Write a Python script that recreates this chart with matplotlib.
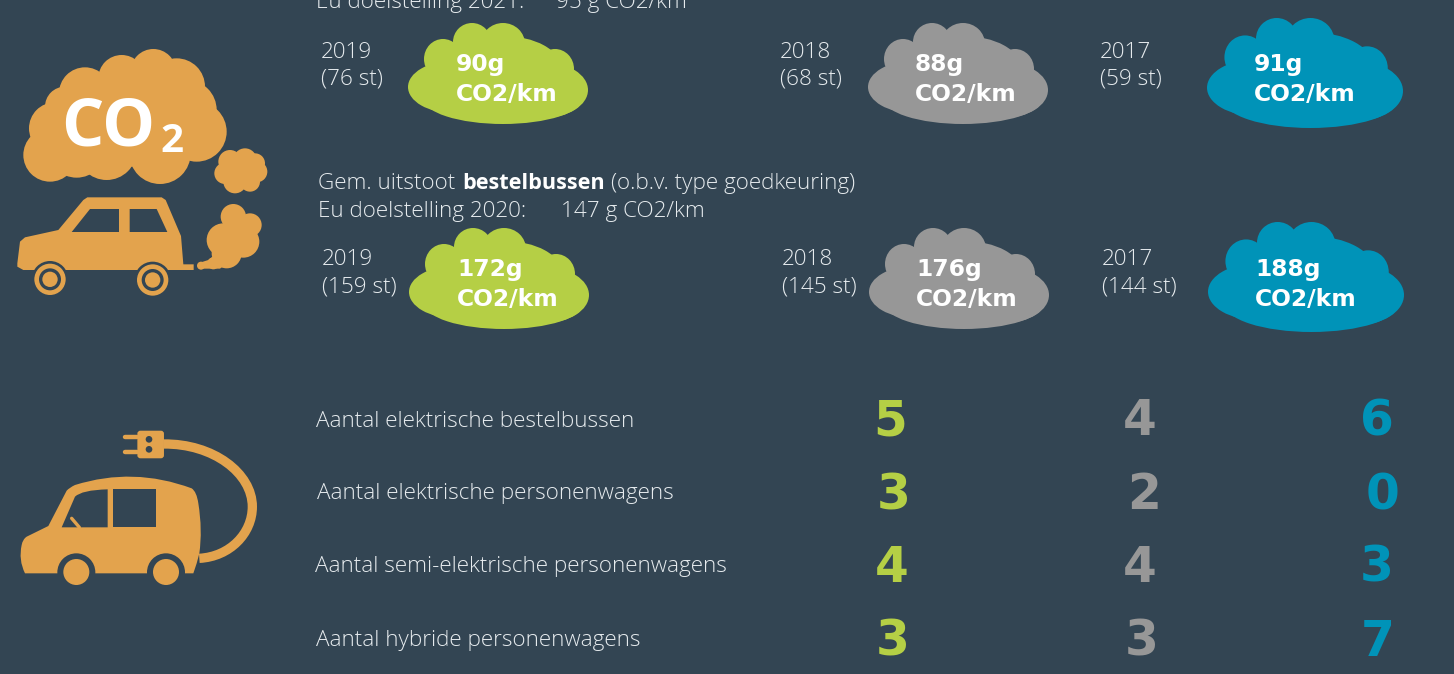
import matplotlib
matplotlib.use("Agg")
import matplotlib.pyplot as plt
from matplotlib.patches import Circle, Ellipse, Polygon, PathPatch, FancyBboxPatch
from matplotlib.path import Path

# ---- data ----
years = ["2019", "2018", "2017"]
car_counts = ["(76 st)", "(68 st)", "(59 st)"]
car_co2 = ["90g", "88g", "91g"]
van_counts = ["(159 st)", "(145 st)", "(144 st)"]
van_co2 = ["172g", "176g", "188g"]
count_labels = ["Aantal elektrische bestelbussen", "Aantal elektrische personenwagens",
                "Aantal semi-elektrische personenwagens", "Aantal hybride personenwagens"]
counts_2019 = [5, 3, 4, 3]
counts_2018 = [4, 2, 4, 3]
counts_2017 = [6, 0, 3, 7]

# ---- style / layout ----
BG = "#334553"; OR = "#E3A34D"; GREEN = "#B5CF45"; GRAY = "#979797"; BLUE = "#0093B8"
colors = [GREEN, GRAY, BLUE]
FONT = "Open Sans"
NUMF = "DejaVu Sans"
LS = 16.2

fig = plt.figure(figsize=(14.54, 6.74), dpi=100, facecolor=BG)
ax = fig.add_axes([0, 0, 1, 1])
ax.set_xlim(0, 1454); ax.set_ylim(674, 0); ax.axis("off")

def txt(x, y, s, size=LS, color="#E6EBEE", **kw):
    kw.setdefault("family", FONT)
    kw.setdefault("weight", "light")
    return ax.text(x, y, s, fontsize=size, color=color, va="baseline", ha=kw.pop("ha", "left"), **kw)

def blobs(items, color, ox=0, oy=0, s=1/3, z=2):
    for cx, cy, r in items:
        ax.add_patch(Circle((ox + cx * s, oy + cy * s), r * s, fc=color, ec="none", zorder=z))

# cloud shape: relative to a 180x101 box (cx, cy, rx, ry)
CLOUD = [(35, 36, 19, 20), (64, 19, 19, 19), (95, 21, 22, 21), (125, 42, 20, 20), (147, 46, 19, 20),
         (95, 45, 58, 32), (45, 64, 45, 26), (135, 67, 45, 28), (95, 75, 80, 26)]
def cloud(x0, y0, w, h, color):
    sx, sy = w / 180, h / 101
    for cx, cy, rx, ry in CLOUD:
        ax.add_patch(Ellipse((x0 + cx * sx, y0 + cy * sy), 2 * rx * sx, 2 * ry * sy, fc=color, ec="none", zorder=2))

# clipped heading fragments at the top edge
txt(205, -9, "g", size=24, color="white", weight="bold", ha="center", clip_on=True)
txt(316, 8, "Eu doelstelling 2021:", clip_on=True)
txt(556, 8, "95 g CO2/km", clip_on=True)

# car rows
car_lbl_x = [321, 780, 1100]; car_cloud_x = [408, 868, 1207]; car_cloud_y = [23, 23, 18]
car_text_x = [456, 915, 1254]; cw = [180, 180, 196]; ch = [101, 101, 110]
for i in range(3):
    txt(car_lbl_x[i], 58, years[i]); txt(car_lbl_x[i], 85, car_counts[i])
    cloud(car_cloud_x[i], car_cloud_y[i], cw[i], ch[i], colors[i])
    txt(car_text_x[i], 71, car_co2[i], size=16.8, color="white", family=NUMF, weight="bold", zorder=3)
    txt(car_text_x[i], 101, "CO2/km", size=16.8, color="white", family=NUMF, weight="bold", zorder=3)

# van heading
txt(318, 189, "Gem. uitstoot")
txt(462, 189, "bestelbussen", weight="bold", color="white", size=15.6)
txt(611, 189, "(o.b.v. type goedkeuring)")
txt(318, 217, "Eu doelstelling 2020:")
txt(561, 217, "147 g CO2/km")

van_lbl_x = [322, 782, 1102]; van_cloud_x = [409, 869, 1208]; van_cloud_y = [228, 228, 222]
van_text_x = [457, 916, 1255]
for i in range(3):
    txt(van_lbl_x[i], 265, years[i]); txt(van_lbl_x[i], 292, van_counts[i])
    cloud(van_cloud_x[i], van_cloud_y[i], cw[i], ch[i], colors[i])
    txt(van_text_x[i], 276, van_co2[i], size=16.8, color="white", family=NUMF, weight="bold", zorder=3)
    txt(van_text_x[i], 306, "CO2/km", size=16.8, color="white", family=NUMF, weight="bold", zorder=3)

# count rows
row_base = [435, 509, 582, 656]
row_lbl_base = [427, 499, 572, 646]
row_lbl_x = [316, 317, 315, 316]
col_x = [[890, 1140, 1377], [894, 1144, 1383], [892, 1140, 1377], [893, 1142, 1378]]
for r in range(4):
    txt(row_lbl_x[r], row_lbl_base[r], count_labels[r])
    vals = [counts_2019[r], counts_2018[r], counts_2017[r]]
    for c in range(3):
        txt(col_x[r][c], row_base[r], str(vals[c]), size=35, color=colors[c], family=NUMF,
            weight="bold", ha="center")

# CO2 car icon (zoom coordinates, 3x)
blobs([(150,465,80),(165,385,78),(195,320,60),(255,280,78),(365,235,70),(460,215,68),(530,260,85),
       (560,330,90),(590,395,90),(480,460,92),(320,450,90),(230,445,88),(400,350,150),(220,400,110)], OR)
blobs([(690,485,35),(735,480,35),(765,490,30),(675,520,32),(770,515,32),(705,545,35),(750,545,30),(725,510,45)], OR)
blobs([(700,650,38),(750,675,35),(670,720,50),(730,725,48),(680,760,45),(640,790,18),(603,797,12)], OR)
def poly(pts, color, z=3):
    ax.add_patch(Polygon([(x / 3, y / 3) for x, y in pts], closed=True, fc=color, ec="none", zorder=z))
poly([(52,790),(60,725),(75,712),(175,690),(250,600),(262,592),(485,592),(497,600),(543,708),(550,793),
      (581,793),(581,810),(70,810),(52,800)], OR)
poly([(600,806),(603,787),(625,780),(650,760),(680,790),(660,806)], OR)
poly([(215,696),(270,627),(357,627),(357,696)], BG, 4)
poly([(389,627),(470,627),(502,696),(389,696)], BG, 4)
for cx, cy in [(150, 838), (458, 840)]:
    blobs([(cx, cy, 55)], BG, z=5); blobs([(cx, cy, 47)], OR, z=6)
    blobs([(cx, cy, 33)], BG, z=7); blobs([(cx, cy, 23)], OR, z=8)
txt(61, 145, "CO", size=48, color="white", family="Open Sans", weight="bold", zorder=9)
txt(160, 152, "2", size=29, color="white", family="Open Sans", weight="bold", zorder=9)

# electric car icon (zoom coordinates, y offset 420)
def P(x, y): return (x / 3, 420 + y / 3)
M, L, C3, C4, Z = Path.MOVETO, Path.LINETO, Path.CURVE3, Path.CURVE4, Path.CLOSEPOLY
def shape(seq, color, z=3, **kw):
    ax.add_patch(PathPatch(Path([P(*p) for p, _ in seq], [c for _, c in seq]), fc=color, ec="none", zorder=z, **kw))
shape([((75,460),M),((55,420),C3),((65,375),C3),((68,358),C3),((80,350),C3),((145,318),L),((200,212),L),
       ((208,203),C3),((225,195),C3),((400,140),C3),((575,205),C3),((590,215),C3),((595,250),C3),
       ((608,330),C3),((598,400),C3),((590,430),L),((580,460),L),((75,460),L),((75,460),Z)], OR)
shape([((185,322),M),((225,230),L),((245,210),C3),((323,208),C3),((323,322),L),((185,322),L),((185,322),Z)], BG, 4)
shape([((340,207),M),((467,207),L),((467,322),L),((340,322),L),((340,207),Z)], BG, 4)
ax.plot([215/3, 238/3], [420+295/3, 420+322/3], color=OR, lw=2.4, solid_capstyle="round", zorder=5)
for cx in (229, 498):
    blobs([(cx, 457, 57)], BG, oy=420, z=4); blobs([(cx, 456, 39)], OR, oy=420, z=5)
ax.add_patch(PathPatch(Path([P(490,72),P(640,70),P(757,160),P(757,260),P(757,340),P(690,410),P(598,415)],
                            [M, C4, C4, C4, C4, C4, C4]), fc="none", ec=OR, lw=6.7, zorder=2))
ax.add_patch(FancyBboxPatch((416/3, 420+36/3), 72/3, 75/3, boxstyle="round,pad=1.3,rounding_size=3",
                            fc=OR, ec="none", zorder=3))
for y in (52, 96):
    ax.plot([374/3, 412/3], [420+y/3]*2, color=OR, lw=3.2, solid_capstyle="round", zorder=3)
blobs([(447, 58, 10), (447, 88, 10)], BG, oy=420, z=4)

fig.savefig("out.png", dpi=100, facecolor=BG)
